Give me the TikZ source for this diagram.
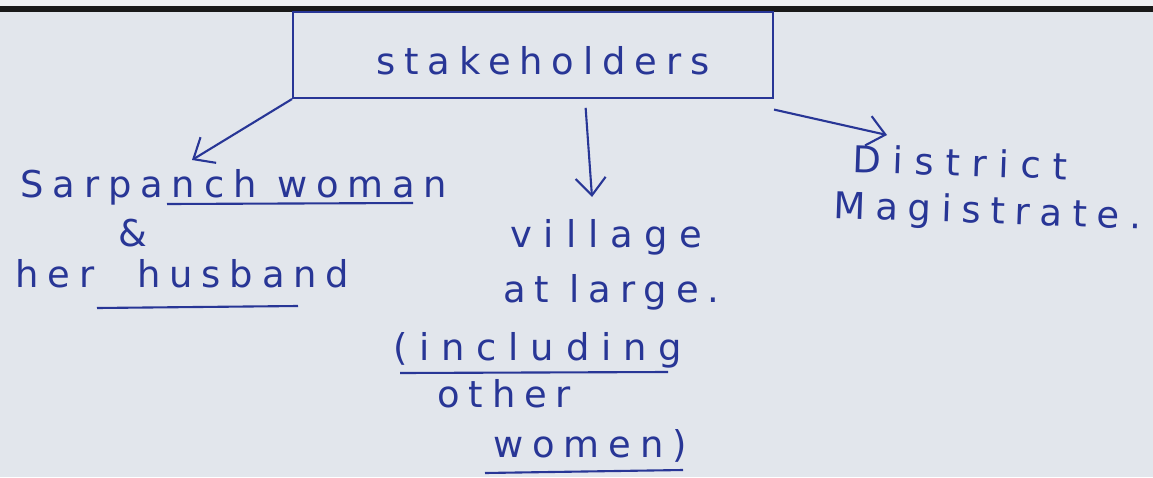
\documentclass[tikz,border=0pt]{standalone}
\usepackage{fontspec}
\newfontfamily\handfont[LetterSpace=24]{DejaVu Sans}
\newfontfamily\midhand[LetterSpace=27]{DejaVu Sans}
\newfontfamily\widehand[LetterSpace=32]{DejaVu Sans}
\usetikzlibrary{arrows.meta,positioning}
\definecolor{ink}{RGB}{40,54,150}
\definecolor{paper}{RGB}{226,230,236}
\definecolor{papertop}{RGB}{238,240,243}
\tikzset{
  hand/.style={ink, font=\handfont\fontsize{21}{24}\selectfont, inner sep=0pt, anchor=base west},
  midhand/.style={hand, font=\midhand\fontsize{21}{24}\selectfont},
  widehand/.style={hand, font=\widehand\fontsize{21}{24}\selectfont},
  link/.style={ink, line width=1.2pt, -{Straight Barb[length=3.5mm,width=6mm]}},
  uline/.style={ink, line width=1.2pt}
}
\begin{document}
\begin{tikzpicture}[x=0.02cm, y=-0.02cm]
        % paper and top edge
        \useasboundingbox (0,0) rectangle (1153,477);
        \fill [paper] (0,0) rectangle (1153,477);
        \fill [papertop] (0,0) rectangle (1153,6);
        \draw [line width=3.5pt, black!90] (0,9) -- (1153,9);
        % box
        \node [draw=ink, line width=1.2pt, minimum width=9.6cm, minimum height=1.72cm,
               inner sep=0pt, font=\handfont\fontsize{21}{24}\selectfont, text=ink]
              (box) at (533,55) {\hspace{0.4cm}\raisebox{-11pt}[0pt][0pt]{stakeholders}};
        % left branch
        \node [hand] (sar) at (20,197) {Sarpanch woman};
        \node [hand] (amp) at (118,246) {\&};
        \node [hand] (her) at (15,287) {her};
        \node [hand] (hus) at (137,287) {husband};
        \draw [uline] (167,204) -- (413,203);
        \draw [uline] (97,308) -- (298,306);
        % middle branch
        \node [widehand] (vil) at (510,247) {village};
        \node [hand] (atl) at (503,302) {at large.};
        \node [widehand] (inc) at (393,360) {(including};
        \node [hand] (oth) at (437,407) {other};
        \node [hand] (wom) at (493,457) {women)};
        \draw [uline] (400,373) -- (668,372);
        \draw [uline] (485,473) -- (683,470);
        % right branch
        \node [widehand, rotate=-2] (dis) at (852,172) {District};
        \node [midhand, rotate=-2] (mag) at (833,218) {Magistrate.};
        % arrow ends
        \coordinate (sartip) at (192,160);
        \coordinate (viltip) at (592,197);
        \coordinate (distip) at (887,135);
        \draw [link] (box.south west) -- (sartip);
        \draw [link, shorten <=5pt] (box.south -| 585,0) -- (viltip);
        \draw [link] ([yshift=-6pt]box.south east) -- (distip);
\end{tikzpicture}
\end{document}
